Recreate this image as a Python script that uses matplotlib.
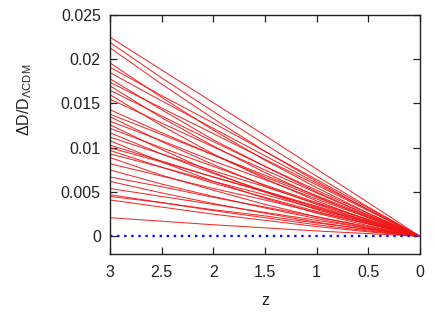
import matplotlib
matplotlib.use('Agg')
import matplotlib.pyplot as plt
import numpy as np

plt.rcParams['font.family'] = ['Liberation Sans', 'DejaVu Sans']

# redshift nodes (x axis runs from 3 down to 0)
z_nodes = [3.0, 2.5, 2.0, 1.5, 1.0, 0.5, 0.0]

# Delta D / D_LCDM of each model at the nodes, in units of 1e-4
dd_z30 = [225, 219, 213, 196, 191, 185, 178, 174, 170, 165, 160, 155, 143, 138, 135, 130, 126, 122,
          117, 112, 108, 103, 100, 97, 93, 89, 82, 75, 67, 62, 54, 47, 45, 41, 21]
dd_z25 = [188, 179, 172, 157, 159, 153, 143, 145, 134, 136, 125, 128, 117, 115, 107, 108, 98, 100,
          93, 93, 84, 85, 84, 78, 78, 69, 68, 59, 56, 49, 45, 38, 38, 33, 17]
dd_z20 = [151, 141, 133, 120, 128, 122, 109, 116, 102, 107, 93, 101, 92, 92, 81, 85, 72, 79,
          71, 74, 62, 67, 67, 60, 62, 52, 54, 45, 44, 37, 36, 29, 30, 25, 13]
dd_z15 = [114, 104, 96, 86, 96, 91, 79, 87, 72, 79, 65, 75, 67, 69, 57, 64, 50, 58,
          51, 56, 43, 50, 51, 44, 47, 36, 41, 32, 33, 26, 27, 21, 23, 18, 9.5]
dd_z10 = [76, 68, 62, 55, 64, 60, 50, 58, 45, 52, 40, 49, 44, 46, 36, 42, 30, 38,
          32, 37, 26, 33, 34, 28, 31, 22, 27, 20, 22, 16, 18, 13, 15, 11, 6]
dd_z05 = [38, 33, 30, 26, 32, 30, 24, 29, 21, 26, 18, 24, 22, 23, 17, 21, 14, 19,
          15, 19, 12, 16, 17, 14, 16, 10, 14, 9, 11, 7, 9, 6, 8, 5, 3]
dd_z00 = [0] * len(dd_z30)

# LCDM reference
lcdm = [0.0] * len(z_nodes)

curves = np.array([dd_z30, dd_z25, dd_z20, dd_z15, dd_z10, dd_z05, dd_z00]) / 1e4

fig = plt.figure(figsize=(4.36, 3.12), dpi=100)
ax = fig.add_axes([0.252, 0.186, 0.711, 0.766])

ax.plot(z_nodes, curves, color='#f01515', linewidth=0.75, alpha=0.9)
ax.plot(z_nodes, lcdm, color='#1010ee', linewidth=1.7, linestyle=(0, (1, 2.0)))

ax.set_xlim(3, 0)
ax.set_ylim(-0.002, 0.025)
ax.set_xticks([3, 2.5, 2, 1.5, 1, 0.5, 0])
ax.set_xticklabels(['3', '2.5', '2', '1.5', '1', '0.5', '0'])
ax.set_yticks([0, 0.005, 0.01, 0.015, 0.02, 0.025])
ax.set_yticklabels(['0', '0.005', '0.01', '0.015', '0.02', '0.025'])
ax.tick_params(direction='in', top=True, right=True, length=5, width=0.9,
               labelsize=11.5, colors='#222222')
ax.tick_params(axis='x', pad=8)
ax.tick_params(axis='y', pad=6.5)
for s in ax.spines.values():
    s.set_linewidth(1.0)
    s.set_color('#222222')

ax.set_xlabel('z', fontsize=11.5, color='#222222', labelpad=9)
fig.text(0.057, 0.68, r'ΔD/D$_{\mathregular{ΛCDM}}$', rotation=90, fontsize=11.5,
         color='#222222', ha='center', va='center')

fig.savefig('out.png', dpi=100)
